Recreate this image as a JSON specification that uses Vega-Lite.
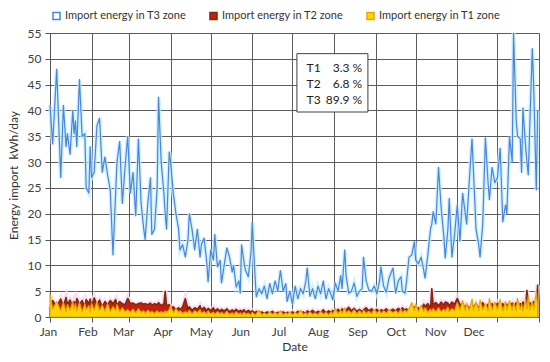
{
  "$schema": "https://vega.github.io/schema/vega-lite/v6.json",
  "width": 489,
  "height": 284,
  "autosize": "none",
  "padding": {"left": 50, "top": 33, "right": 11, "bottom": 45},
  "background": "white",
  "config": {
    "view": {"stroke": null},
    "font": "Lato",
    "axis": {
      "labelFont": "Lato", "labelFontSize": 12, "labelColor": "#404040",
      "titleFont": "Lato", "titleFontSize": 12, "titleFontWeight": "normal", "titleColor": "#333333",
      "gridColor": "#5c5c5c", "gridWidth": 1, "gridOpacity": 1,
      "domainColor": "#555555", "tickColor": "#555555", "tickSize": 5
    }
  },
  "layer": [
    {
      "data": {"values": [
        {"d":0,"t3":41,"t2":1.5,"t1":4.5},{"d":2,"t3":33.5,"t2":3.2,"t1":1.5},{"d":5,"t3":48,"t2":2.0,"t1":3.0},{"d":8,"t3":27,"t2":3.5,"t1":1.2},
        {"d":10,"t3":41,"t2":2.2,"t1":2.8},{"d":12,"t3":33,"t2":3.8,"t1":1.0},{"d":13,"t3":35.5,"t2":2.5,"t1":2.4},{"d":15,"t3":31.5,"t2":3.3,"t1":1.3},
        {"d":17,"t3":40,"t2":2.0,"t1":3.0},{"d":18,"t3":35.5,"t2":3.0,"t1":1.5},{"d":19,"t3":38,"t2":2.2,"t1":2.6},{"d":20,"t3":33,"t2":3.6,"t1":1.2},
        {"d":22,"t3":46,"t2":2.5,"t1":2.8},{"d":24,"t3":35,"t2":3.2,"t1":1.0},{"d":26,"t3":35.5,"t2":2.0,"t1":2.5},{"d":27,"t3":25,"t2":3.4,"t1":1.4},
        {"d":29,"t3":24,"t2":2.6,"t1":2.2},{"d":30,"t3":33,"t2":3.5,"t1":1.0},{"d":31,"t3":27,"t2":2.2,"t1":2.6},{"d":33,"t3":28,"t2":3.7,"t1":1.3},
        {"d":35,"t3":37,"t2":2.4,"t1":2.9},{"d":37,"t3":38.5,"t2":3.3,"t1":1.2},{"d":39,"t3":28,"t2":2.0,"t1":2.3},{"d":41,"t3":31,"t2":3.0,"t1":1.1},
        {"d":43,"t3":27.5,"t2":2.4,"t1":2.6},{"d":45,"t3":24.5,"t2":3.2,"t1":1.0},{"d":47,"t3":12,"t2":2.6,"t1":2.0},{"d":49,"t3":24,"t2":3.4,"t1":1.2},
        {"d":50,"t3":30,"t2":2.3,"t1":2.4},{"d":52,"t3":34,"t2":3.0,"t1":1.0},{"d":54,"t3":22,"t2":2.6,"t1":1.8},{"d":56,"t3":29,"t2":2.4,"t1":1.0},
        {"d":58,"t3":35,"t2":3.6,"t1":1.4},{"d":60,"t3":24,"t2":2.6,"t1":0.9},{"d":62,"t3":28,"t2":2.7,"t1":1.5},{"d":64,"t3":19.6,"t2":2.4,"t1":0.8},
        {"d":66,"t3":34.5,"t2":2.6,"t1":1.6},{"d":68,"t3":22,"t2":2.7,"t1":0.9},{"d":70,"t3":17,"t2":2.5,"t1":1.2},{"d":71,"t3":15,"t2":2.6,"t1":0.7},
        {"d":73,"t3":22,"t2":2.4,"t1":1.3},{"d":75,"t3":27,"t2":2.7,"t1":0.8},{"d":76,"t3":16,"t2":2.3,"t1":1.1},{"d":78,"t3":17,"t2":2.6,"t1":0.7},
        {"d":80,"t3":25,"t2":2.4,"t1":1.2},{"d":81,"t3":42.6,"t2":2.8,"t1":0.8},{"d":83,"t3":30,"t2":2.2,"t1":1.0},{"d":85,"t3":24,"t2":2.6,"t1":0.8},
        {"d":86,"t3":20,"t2":5.0,"t1":1.2},{"d":87,"t3":17,"t2":2.2,"t1":0.9},{"d":89,"t3":32,"t2":2.4,"t1":1.4},{"d":90,"t3":30,"t2":1.6,"t1":2.2},
        {"d":92,"t3":24,"t2":2.0,"t1":0.8},{"d":94,"t3":20,"t2":1.4,"t1":1.6},{"d":96,"t3":17,"t2":1.8,"t1":0.9},{"d":97,"t3":13,"t2":1.4,"t1":1.2},
        {"d":99,"t3":14,"t2":2.0,"t1":0.7},{"d":101,"t3":11.6,"t2":3.6,"t1":1.0},{"d":103,"t3":15,"t2":1.5,"t1":0.8},{"d":104,"t3":20,"t2":2.0,"t1":1.3},
        {"d":106,"t3":17,"t2":1.3,"t1":0.6},{"d":108,"t3":13,"t2":1.8,"t1":1.2},{"d":110,"t3":17,"t2":1.5,"t1":0.8},{"d":112,"t3":11.6,"t2":2.2,"t1":1.4},
        {"d":113,"t3":14,"t2":1.4,"t1":0.7},{"d":115,"t3":15.3,"t2":1.9,"t1":1.0},{"d":117,"t3":10.6,"t2":1.2,"t1":0.6},{"d":118,"t3":6.8,"t2":1.7,"t1":1.2},
        {"d":120,"t3":13,"t2":1.3,"t1":0.6},{"d":122,"t3":11,"t2":1.8,"t1":0.9},{"d":123,"t3":16,"t2":1.2,"t1":0.5},{"d":125,"t3":9.7,"t2":1.6,"t1":1.0},
        {"d":127,"t3":11,"t2":1.1,"t1":0.6},{"d":128,"t3":6.6,"t2":1.5,"t1":0.9},{"d":130,"t3":10,"t2":1.2,"t1":0.5},{"d":132,"t3":13.4,"t2":1.6,"t1":1.1},
        {"d":134,"t3":11.6,"t2":1.0,"t1":0.5},{"d":136,"t3":8.7,"t2":1.4,"t1":0.8},{"d":137,"t3":10,"t2":1.1,"t1":0.4},{"d":139,"t3":5.8,"t2":1.5,"t1":1.0},
        {"d":141,"t3":7,"t2":1.0,"t1":0.5},{"d":142,"t3":4.6,"t2":1.3,"t1":0.8},{"d":143,"t3":14,"t2":1.1,"t1":0.4},{"d":145,"t3":10.3,"t2":1.4,"t1":0.9},
        {"d":146,"t3":9,"t2":0.9,"t1":0.5},{"d":148,"t3":7.8,"t2":1.3,"t1":0.7},{"d":150,"t3":12.4,"t2":1.0,"t1":0.4},{"d":151,"t3":18.4,"t2":1.2,"t1":0.9},
        {"d":153,"t3":8,"t2":0.8,"t1":0.4},{"d":154,"t3":3.9,"t2":1.1,"t1":0.6},{"d":156,"t3":5.5,"t2":0.8,"t1":1.3},{"d":158,"t3":4.5,"t2":1.0,"t1":0.4},
        {"d":160,"t3":6,"t2":0.7,"t1":0.8},{"d":162,"t3":3.5,"t2":1.0,"t1":0.4},{"d":164,"t3":6.5,"t2":0.8,"t1":1.0},{"d":166,"t3":4.5,"t2":1.1,"t1":0.5},
        {"d":168,"t3":7,"t2":0.7,"t1":0.9},{"d":170,"t3":5,"t2":0.9,"t1":0.4},{"d":172,"t3":9,"t2":0.8,"t1":1.2},{"d":174,"t3":5,"t2":1.0,"t1":0.4},
        {"d":176,"t3":6.5,"t2":0.7,"t1":0.8},{"d":177,"t3":3,"t2":0.9,"t1":0.5},{"d":179,"t3":5,"t2":0.8,"t1":1.0},{"d":181,"t3":2.5,"t2":1.0,"t1":0.4},
        {"d":183,"t3":6,"t2":0.7,"t1":0.9},{"d":185,"t3":3.5,"t2":1.1,"t1":0.5},{"d":187,"t3":5.5,"t2":0.8,"t1":1.3},{"d":189,"t3":4.5,"t2":1.0,"t1":0.5},
        {"d":191,"t3":7,"t2":0.7,"t1":0.8},{"d":192,"t3":9.5,"t2":1.2,"t1":0.4},{"d":194,"t3":4,"t2":0.9,"t1":1.0},{"d":196,"t3":5.5,"t2":1.3,"t1":0.5},
        {"d":198,"t3":3.5,"t2":0.8,"t1":0.8},{"d":200,"t3":6,"t2":1.1,"t1":0.4},{"d":202,"t3":4.5,"t2":0.9,"t1":1.1},{"d":204,"t3":7,"t2":1.4,"t1":0.5},
        {"d":206,"t3":3.5,"t2":0.8,"t1":0.9},{"d":208,"t3":5.5,"t2":1.2,"t1":0.4},{"d":210,"t3":4.2,"t2":0.9,"t1":1.0},{"d":211,"t3":3.3,"t2":1.3,"t1":0.5},
        {"d":213,"t3":6.6,"t2":1.0,"t1":1.6},{"d":215,"t3":5,"t2":1.5,"t1":0.6},{"d":217,"t3":8,"t2":1.1,"t1":1.3},{"d":218,"t3":5.5,"t2":1.6,"t1":0.7},
        {"d":220,"t3":13,"t2":1.0,"t1":1.8},{"d":221,"t3":8,"t2":1.4,"t1":0.8},{"d":223,"t3":4.6,"t2":1.9,"t1":1.2},{"d":225,"t3":5,"t2":1.2,"t1":0.7},
        {"d":227,"t3":6.6,"t2":1.7,"t1":1.4},{"d":229,"t3":4,"t2":1.1,"t1":0.6},{"d":231,"t3":5,"t2":1.5,"t1":1.2},{"d":233,"t3":5.5,"t2":1.0,"t1":0.6},
        {"d":234,"t3":11.6,"t2":1.4,"t1":1.3},{"d":236,"t3":7,"t2":1.8,"t1":0.7},{"d":238,"t3":5.2,"t2":1.2,"t1":1.1},{"d":240,"t3":5,"t2":1.6,"t1":0.6},
        {"d":242,"t3":6,"t2":1.1,"t1":1.5},{"d":244,"t3":4.5,"t2":1.5,"t1":0.7},{"d":246,"t3":7,"t2":1.0,"t1":1.3},{"d":247,"t3":9.7,"t2":1.4,"t1":0.6},
        {"d":249,"t3":6,"t2":1.2,"t1":1.2},{"d":251,"t3":4.8,"t2":1.6,"t1":0.7},{"d":253,"t3":7.5,"t2":1.1,"t1":1.4},{"d":256,"t3":9.5,"t2":1.5,"t1":0.8},
        {"d":258,"t3":4.6,"t2":1.2,"t1":1.2},{"d":260,"t3":7,"t2":1.7,"t1":0.7},{"d":262,"t3":7.8,"t2":1.3,"t1":1.5},{"d":263,"t3":5,"t2":1.8,"t1":0.8},
        {"d":265,"t3":4.6,"t2":1.3,"t1":1.3},{"d":266,"t3":6.6,"t2":1.6,"t1":0.9},{"d":268,"t3":11.6,"t2":1.2,"t1":1.6},{"d":270,"t3":12,"t2":1.4,"t1":2.8},
        {"d":272,"t3":14.6,"t2":2.0,"t1":1.2},{"d":273,"t3":11,"t2":1.4,"t1":2.5},{"d":275,"t3":10.3,"t2":1.8,"t1":1.0},{"d":277,"t3":11.6,"t2":1.3,"t1":2.3},
        {"d":279,"t3":9,"t2":2.5,"t1":1.0},{"d":280,"t3":7.5,"t2":2.0,"t1":1.8},{"d":282,"t3":12,"t2":2.6,"t1":0.9},{"d":284,"t3":17,"t2":1.8,"t1":1.5},
        {"d":285,"t3":18,"t2":5.5,"t1":1.0},{"d":286,"t3":20.4,"t2":2.4,"t1":1.6},{"d":288,"t3":18,"t2":2.8,"t1":1.0},{"d":290,"t3":29,"t2":2.2,"t1":1.8},
        {"d":292,"t3":21,"t2":2.9,"t1":1.0},{"d":294,"t3":15.5,"t2":2.3,"t1":1.5},{"d":295,"t3":11.4,"t2":2.9,"t1":1.1},{"d":297,"t3":17,"t2":2.7,"t1":1.9},
        {"d":298,"t3":23,"t2":2.2,"t1":1.0},{"d":300,"t3":11.6,"t2":2.9,"t1":1.6},{"d":302,"t3":16,"t2":2.5,"t1":1.2},{"d":304,"t3":21.7,"t2":3.6,"t1":2.8},
        {"d":306,"t3":14.7,"t2":2.4,"t1":1.3},{"d":308,"t3":24,"t2":2.6,"t1":3.2},{"d":310,"t3":20,"t2":1.8,"t1":1.2},{"d":311,"t3":18,"t2":2.4,"t1":2.6},
        {"d":313,"t3":26.5,"t2":1.7,"t1":1.2},{"d":315,"t3":34.5,"t2":2.4,"t1":3.5},{"d":316,"t3":28.7,"t2":1.9,"t1":1.3},{"d":318,"t3":17,"t2":2.6,"t1":2.9},
        {"d":320,"t3":14,"t2":1.7,"t1":1.2},{"d":321,"t3":11.6,"t2":2.2,"t1":3.3},{"d":323,"t3":18,"t2":2.8,"t1":1.4},{"d":325,"t3":34.7,"t2":1.8,"t1":2.6},
        {"d":327,"t3":26,"t2":2.5,"t1":1.2},{"d":328,"t3":22.7,"t2":1.9,"t1":3.6},{"d":330,"t3":29,"t2":2.6,"t1":1.3},{"d":332,"t3":26,"t2":1.8,"t1":2.9},
        {"d":334,"t3":27,"t2":2.7,"t1":1.4},{"d":336,"t3":32.7,"t2":2.0,"t1":3.4},{"d":338,"t3":18.4,"t2":2.6,"t1":1.2},{"d":340,"t3":21.7,"t2":1.8,"t1":3.0},
        {"d":341,"t3":20,"t2":2.5,"t1":1.4},{"d":343,"t3":34.9,"t2":2.0,"t1":3.2},{"d":345,"t3":30,"t2":2.7,"t1":1.3},{"d":346,"t3":55,"t2":1.9,"t1":2.8},
        {"d":348,"t3":38,"t2":2.8,"t1":1.2},{"d":349,"t3":35,"t2":2.1,"t1":3.6},{"d":351,"t3":34.5,"t2":2.6,"t1":1.4},{"d":352,"t3":28,"t2":2.0,"t1":2.5},
        {"d":353,"t3":40.5,"t2":2.9,"t1":1.2},{"d":355,"t3":33,"t2":2.2,"t1":3.4},{"d":356,"t3":30,"t2":5.2,"t1":1.5},{"d":357,"t3":27.5,"t2":2.4,"t1":4.2},
        {"d":358,"t3":36,"t2":2.8,"t1":1.3},{"d":360,"t3":52,"t2":2.2,"t1":3.0},{"d":361,"t3":45,"t2":3.0,"t1":1.4},{"d":363,"t3":24.6,"t2":2.4,"t1":4.8},
        {"d":364,"t3":40,"t2":6.2,"t1":2.0}
      ]},
      "transform": [{"fold": ["t3", "t2", "t1"], "as": ["series", "val"]}],
      "encoding": {
        "x": {
          "field": "d", "type": "quantitative",
          "scale": {"domain": [0, 365], "nice": false, "zero": false},
          "axis": {
            "title": "Date",
            "values": [0, 31, 59, 90, 120, 151, 181, 212, 243, 273, 304, 334, 365],
            "labelExpr": "['Jan','Feb','Mar','Apr','May','Jun','Jul','Aug','Sep','Oct','Nov','Dec',''][indexof([0,31,59,90,120,151,181,212,243,273,304,334,365], datum.value)]",
            "labelOffset": {"expr": "-2 - datum.value * 0.066"},
            "labelPadding": 4, "titlePadding": 4, "labelFlush": false, "labelOverlap": false
          }
        },
        "y": {
          "field": "val", "type": "quantitative",
          "scale": {"domain": [0, 55], "nice": false},
          "axis": {
            "title": "Energy import\u00a0 kWh/day",
            "values": [0, 5, 10, 15, 20, 25, 30, 35, 40, 45, 50, 55],
            "labelPadding": 4, "titlePadding": 7, "labelOverlap": false, "labelFlush": false
          }
        }
      },
      "layer": [
        {
          "transform": [{"filter": "datum.series === 't2'"}],
          "mark": {"type": "line", "stroke": "#ffd6ee", "strokeWidth": 5, "opacity": 0.8},
          "encoding": {}
        },
        {
          "transform": [{"filter": "datum.series === 't2'"}],
          "mark": {"type": "area", "strokeWidth": 1.5, "strokeJoin": "round"},
          "encoding": {
            "fill": {"field": "series", "type": "nominal",
              "scale": {"domain": ["t3", "t2", "t1"], "range": ["#ffffff", "#c0200c", "#ffd400"]},
              "legend": {"title": null, "orient": "none", "legendX": 1, "legendY": -23, "direction": "horizontal",
                "symbolType": "square", "symbolSize": 50, "symbolStrokeWidth": 1.5,
                "labelFont": "Lato", "labelFontSize": 11, "labelColor": "#333333", "labelOffset": 3, "columnPadding": 19,
                "labelExpr": "'Import energy in ' + upper(datum.label) + ' zone'"}},
            "stroke": {"field": "series", "type": "nominal",
              "scale": {"domain": ["t3", "t2", "t1"], "range": ["#4a84dc", "#82280a", "#e8a800"]},
              "legend": {"title": null, "orient": "none", "legendX": 1, "legendY": -23, "direction": "horizontal",
                "symbolType": "square", "symbolSize": 50, "symbolStrokeWidth": 1.5,
                "labelFont": "Lato", "labelFontSize": 11, "labelColor": "#333333", "labelOffset": 3, "columnPadding": 19,
                "labelExpr": "'Import energy in ' + upper(datum.label) + ' zone'"}}
          }
        },
        {
          "transform": [{"filter": "datum.series === 't1'"}],
          "mark": {"type": "area", "strokeWidth": 1.2, "strokeJoin": "round"},
          "encoding": {
            "fill": {"field": "series", "type": "nominal"},
            "stroke": {"field": "series", "type": "nominal"}
          }
        },
        {
          "transform": [{"filter": "datum.series === 't3'"}],
          "mark": {"type": "line", "stroke": "#c6efff", "strokeWidth": 4, "opacity": 0.8},
          "encoding": {}
        },
        {
          "transform": [{"filter": "datum.series === 't3'"}],
          "mark": {"type": "line", "strokeWidth": 1.2, "strokeJoin": "round"},
          "encoding": {
            "stroke": {"field": "series", "type": "nominal"}
          }
        }
      ]
    },
    {
      "data": {"values": [{}]},
      "mark": {"type": "rect", "fill": "#ffffff", "stroke": "#404040", "strokeWidth": 1},
      "encoding": {
        "x": {"datum": 184.3, "type": "quantitative",
          "axis": {"title": "Date", "values": [0, 31, 59, 90, 120, 151, 181, 212, 243, 273, 304, 334, 365],
            "labelExpr": "['Jan','Feb','Mar','Apr','May','Jun','Jul','Aug','Sep','Oct','Nov','Dec',''][indexof([0,31,59,90,120,151,181,212,243,273,304,334,365], datum.value)]",
            "labelOffset": {"expr": "-2 - datum.value * 0.066"},
            "labelPadding": 4, "titlePadding": 4, "labelFlush": false, "labelOverlap": false}},
        "x2": {"datum": 237.3},
        "y": {"datum": 51, "type": "quantitative",
          "axis": {"title": "Energy import\u00a0 kWh/day", "values": [0, 5, 10, 15, 20, 25, 30, 35, 40, 45, 50, 55],
            "labelPadding": 4, "titlePadding": 7, "labelOverlap": false, "labelFlush": false}},
        "y2": {"datum": 39.7}
      }
    },
    {
      "data": {"values": [{"zone": "T1", "share": "3.3 %"}, {"zone": "T2", "share": "6.8 %"}, {"zone": "T3", "share": "89.9 %"}]},
      "mark": {"type": "text", "align": "left", "baseline": "middle", "font": "Lato", "fontSize": 12, "color": "#222222"},
      "encoding": {
        "x": {"datum": 191.5, "type": "quantitative",
          "axis": {"title": "Date", "values": [0, 31, 59, 90, 120, 151, 181, 212, 243, 273, 304, 334, 365],
            "labelExpr": "['Jan','Feb','Mar','Apr','May','Jun','Jul','Aug','Sep','Oct','Nov','Dec',''][indexof([0,31,59,90,120,151,181,212,243,273,304,334,365], datum.value)]",
            "labelOffset": {"expr": "-2 - datum.value * 0.066"},
            "labelPadding": 4, "titlePadding": 4, "labelFlush": false, "labelOverlap": false}},
        "y": {"datum": 45.2, "type": "quantitative",
          "axis": {"title": "Energy import\u00a0 kWh/day", "values": [0, 5, 10, 15, 20, 25, 30, 35, 40, 45, 50, 55],
            "labelPadding": 4, "titlePadding": 7, "labelOverlap": false, "labelFlush": false}},
        "yOffset": {"field": "zone", "type": "nominal", "scale": {"type": "point", "range": [-16, 16], "padding": 0}},
        "text": {"field": "zone"}
      }
    },
    {
      "data": {"values": [{"zone": "T1", "share": "3.3 %"}, {"zone": "T2", "share": "6.8 %"}, {"zone": "T3", "share": "89.9 %"}]},
      "mark": {"type": "text", "align": "right", "baseline": "middle", "font": "Lato", "fontSize": 12, "color": "#222222"},
      "encoding": {
        "x": {"datum": 233, "type": "quantitative",
          "axis": {"title": "Date", "values": [0, 31, 59, 90, 120, 151, 181, 212, 243, 273, 304, 334, 365],
            "labelExpr": "['Jan','Feb','Mar','Apr','May','Jun','Jul','Aug','Sep','Oct','Nov','Dec',''][indexof([0,31,59,90,120,151,181,212,243,273,304,334,365], datum.value)]",
            "labelOffset": {"expr": "-2 - datum.value * 0.066"},
            "labelPadding": 4, "titlePadding": 4, "labelFlush": false, "labelOverlap": false}},
        "y": {"datum": 45.2, "type": "quantitative",
          "axis": {"title": "Energy import\u00a0 kWh/day", "values": [0, 5, 10, 15, 20, 25, 30, 35, 40, 45, 50, 55],
            "labelPadding": 4, "titlePadding": 7, "labelOverlap": false, "labelFlush": false}},
        "yOffset": {"field": "zone", "type": "nominal", "scale": {"type": "point", "range": [-16, 16], "padding": 0}},
        "text": {"field": "share"}
      }
    }
  ]
}
